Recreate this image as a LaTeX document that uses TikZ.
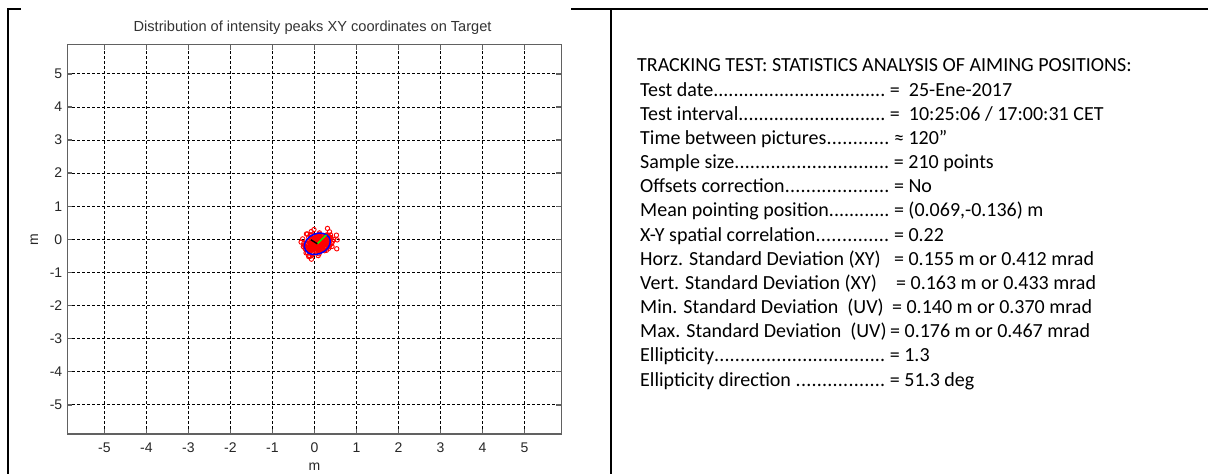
\documentclass[tikz,border=0pt]{standalone}
\usepackage{fontspec}
\setmainfont{Carlito}
\newfontfamily\plotfont{Liberation Sans}
\usepackage{tikz}
\usetikzlibrary{calc}
\usetikzlibrary{positioning}
\tikzset{>=latex}
\tikzstyle{tablerule} = [black, line width=2.6pt]
\tikzstyle{gridline} = [black, line width=0.8pt, dash pattern=on 3pt off 2pt]
\tikzstyle{axisbox} = [draw=black!62, line width=1.4pt]
\tikzstyle{ticklbl} = [draw=none, inner sep=0, text=black!85, font=\plotfont\fontsize{14}{16}\selectfont]
\tikzstyle{statline} = [draw=none, inner sep=0, anchor=base west, font=\fontsize{20}{24}\selectfont]
\tikzstyle{sample} = [red, line width=0.9pt]
% label padded with dots up to the "=" column
\newcommand{\dotsto}[2]{\makebox[#1][l]{#2\xleaders\hbox{.}\hfill\ }}

\begin{document}
\begin{tikzpicture}[x=1pt, y=-1pt]
\useasboundingbox (0,0) rectangle (1208,474);
% table frame
\draw [tablerule] (8,9) -- (8,474);
\draw [tablerule] (611,9) -- (611,474);
\draw [tablerule] (7,9) -- (21,9);
\draw [tablerule] (571,9) -- (1208,9);

% --- left cell: scatter plot ---
\node [ticklbl, text=black!80, font=\plotfont\fontsize{14.6}{16}\selectfont] (title) at (312.6,28) {Distribution of intensity peaks XY coordinates on Target};
\begin{scope}[shift={(314.4,239.3)}, x=42pt, y=33.1pt]
\foreach \k in {-5,...,5} {
  \draw [gridline] (\k,-5.88) -- (\k,5.88);
  \draw [gridline] (-5.88,\k) -- (5.88,\k);
  \draw [axisbox] (\k,-5.88) -- ++(0,5pt);
  \draw [axisbox] (\k,5.88) -- ++(0,-5pt);
  \draw [axisbox] (-5.88,\k) -- ++(5pt,0);
  \draw [axisbox] (5.88,\k) -- ++(-5pt,0);
  \node [ticklbl, anchor=base] (xt\k) at ($(\k,-5.88)+(0,-18.5pt)$) {\k};
  \node [ticklbl, anchor=east] (yt\k) at ($(-5.88,\k)+(-5pt,0)$) {\k};
}
\draw [axisbox] (-5.88,-5.88) rectangle (5.88,5.88);
\node [ticklbl, anchor=base] (xlab) at ($(0,-5.88)+(0,-37pt)$) {m};
\node [ticklbl, rotate=90, anchor=center] (ylab) at ($(-5.88,0)+(-33pt,0)$) {m};

% aiming positions
\pgfmathsetseed{2017}
\foreach \i in {1,...,210} {
  \pgfmathsetmacro{\ra}{sqrt(-2*ln(0.002+0.996*rnd))}
  \pgfmathsetmacro{\rb}{360*rnd}
  \pgfmathsetmacro{\px}{0.069+0.155*\ra*cos(\rb)}
  \pgfmathsetmacro{\py}{-0.136+0.163*\ra*(0.22*cos(\rb)+0.975*sin(\rb))}
  \draw [sample] (\px,\py) circle [radius=2.2pt];
}
\coordinate (mean) at (0.069,-0.136);
\draw [blue, line width=1.5pt] plot [domain=0:360, samples=19]
  ({0.069+0.35*cos(\x)*cos(51.3)-0.28*sin(\x)*sin(51.3)},
   {-0.136+0.35*cos(\x)*sin(51.3)+0.28*sin(\x)*cos(51.3)});
\draw [green, line width=1.4pt] (mean) -- ($(mean)+({0.35*cos(51.3)},{0.35*sin(51.3)})$);
\draw [black, line width=1.4pt] (mean) -- ($(mean)+({0.2*cos(141.3)},{0.2*sin(141.3)})$);
\end{scope}

% --- right cell: statistics ---
\node [statline] (head) at (637,71) {TRACKING TEST: STATISTICS ANALYSIS OF AIMING POSITIONS:};
\node [statline] (date) at (640,96) {\dotsto{250pt}{Test date}= \ 25-Ene-2017};
\node [statline] (intv) at (640,120.2) {\dotsto{250pt}{Test interval}= \ 10:25:06 / 17:00:31 CET};
\node [statline] (tpic) at (640,144.3) {\dotsto{254pt}{Time between pictures}≈ 120”};
\node [statline] (size) at (640,168.5) {\dotsto{254pt}{Sample size}= 210 points};
\node [statline] (offs) at (640,192.7) {\dotsto{254pt}{Offsets correction}= No};
\node [statline] (mpos) at (640,216.8) {\dotsto{254pt}{Mean pointing position}= (0.069,-0.136) m};
\node [statline] (corr) at (640,241) {\dotsto{254pt}{X-Y spatial correlation}= 0.22};
\node [statline] (hstd) at (640,265.2) {\makebox[254pt][l]{Horz. Standard Deviation (XY)}= 0.155 m or 0.412 mrad};
\node [statline] (vstd) at (640,289.3) {\makebox[256pt][l]{Vert. Standard Deviation (XY)}= 0.163 m or 0.433 mrad};
\node [statline] (nstd) at (640,313.5) {\makebox[252pt][l]{Min. Standard Deviation \ (UV)}= 0.140 m or 0.370 mrad};
\node [statline] (xstd) at (640,337.7) {\makebox[250pt][l]{Max. Standard Deviation \ (UV)}= 0.176 m or 0.467 mrad};
\node [statline] (elli) at (640,361.8) {\dotsto{250pt}{Ellipticity}= 1.3};
\node [statline] (edir) at (640,386) {\dotsto{250pt}{Ellipticity direction }= 51.3 deg};
\end{tikzpicture}
\end{document}
